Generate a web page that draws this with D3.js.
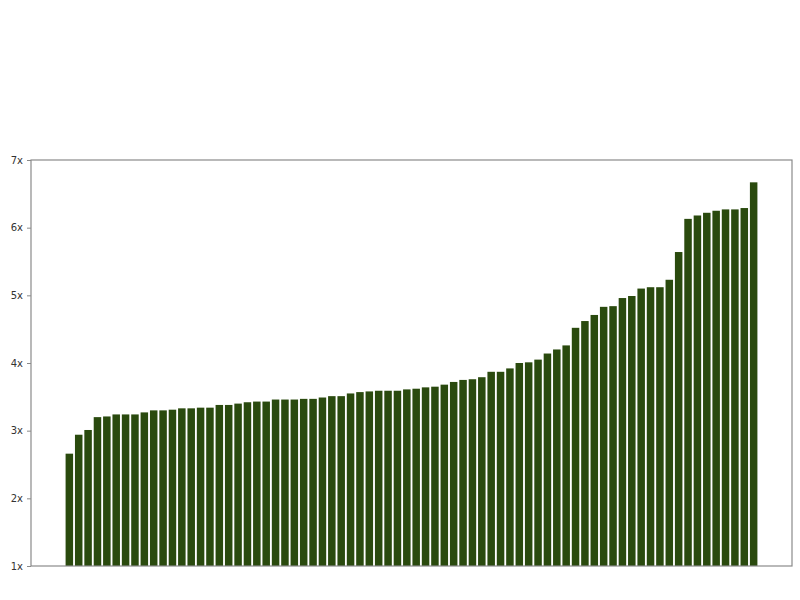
<!DOCTYPE html>
<html>
<head>
<meta charset="utf-8">
<script src="https://cdn.jsdelivr.net/npm/d3@7"></script>
<style>
  body { margin: 0; background: #fff; }
  svg { display: block; }
</style>
</head>
<body>
<div id="container"></div>
<script>
var w = 800,
    h = 600;

// axes box, in page pixels
var margin = { left: 31, right: 8, top: 160, bottom: 34 };

// multiples, sorted low to high
var values = [
    2.66, 2.94, 3.01, 3.20, 3.21, 3.24, 3.24, 3.24, 3.27, 3.30,
    3.30, 3.31, 3.33, 3.33, 3.34, 3.34, 3.38, 3.38, 3.40, 3.42,
    3.43, 3.43, 3.46, 3.46, 3.46, 3.47, 3.47, 3.49, 3.51, 3.51,
    3.55, 3.57, 3.58, 3.59, 3.59, 3.59, 3.61, 3.62, 3.64, 3.65,
    3.68, 3.72, 3.75, 3.76, 3.79, 3.87, 3.87, 3.92, 4.00, 4.01,
    4.05, 4.14, 4.20, 4.26, 4.52, 4.62, 4.71, 4.83, 4.84, 4.96,
    4.99, 5.10, 5.12, 5.12, 5.23, 5.64, 6.13, 6.18, 6.22, 6.25,
    6.27, 6.27, 6.29, 6.67
];
var yTicks = [1, 2, 3, 4, 5, 6, 7];
var yDomain = [1, 7];

var svg = d3.select('#container')
    .append('svg')
    .attr('width', w)
    .attr('height', h);

var innerW = w - margin.left - margin.right,
    innerH = h - margin.top - margin.bottom;

// matplotlib-like: bars of width 0.8 at integer positions, 5% padding
var n = values.length;
var pad = (n - 1 + 0.8) * 0.05;
var x = d3.scaleLinear()
    .domain([-0.4 - pad, n - 1 + 0.4 + pad])
    .range([margin.left, margin.left + innerW]);

var y = d3.scaleLinear()
    .domain(yDomain)
    .range([margin.top + innerH, margin.top]);

svg.append('g')
    .selectAll('rect')
    .data(values)
    .enter()
    .append('rect')
    .attr('x', function(d, i) { return x(i - 0.4); })
    .attr('width', function(d, i) { return x(i + 0.4) - x(i - 0.4); })
    .attr('y', function(d) { return y(d); })
    .attr('height', function(d) { return y(yDomain[0]) - y(d); })
    .attr('fill', '#2a4a0e');

// frame
svg.append('rect')
    .attr('x', margin.left)
    .attr('y', margin.top)
    .attr('width', innerW)
    .attr('height', innerH)
    .attr('fill', 'none')
    .attr('stroke', '#8a8a8a')
    .attr('stroke-width', 1.2);

var yAxis = d3.axisLeft(y)
    .tickValues(yTicks)
    .tickSize(4)
    .tickPadding(4)
    .tickFormat(function(d) { return d + 'x'; });

var gy = svg.append('g')
    .attr('transform', 'translate(' + margin.left + ',0)')
    .call(yAxis);

gy.select('.domain').remove();
gy.selectAll('.tick line').attr('stroke', '#8a8a8a');
gy.selectAll('.tick text')
    .attr('fill', '#333')
    .style('font-family', 'DejaVu Sans, sans-serif')
    .style('font-size', '10px');
</script>
</body>
</html>
